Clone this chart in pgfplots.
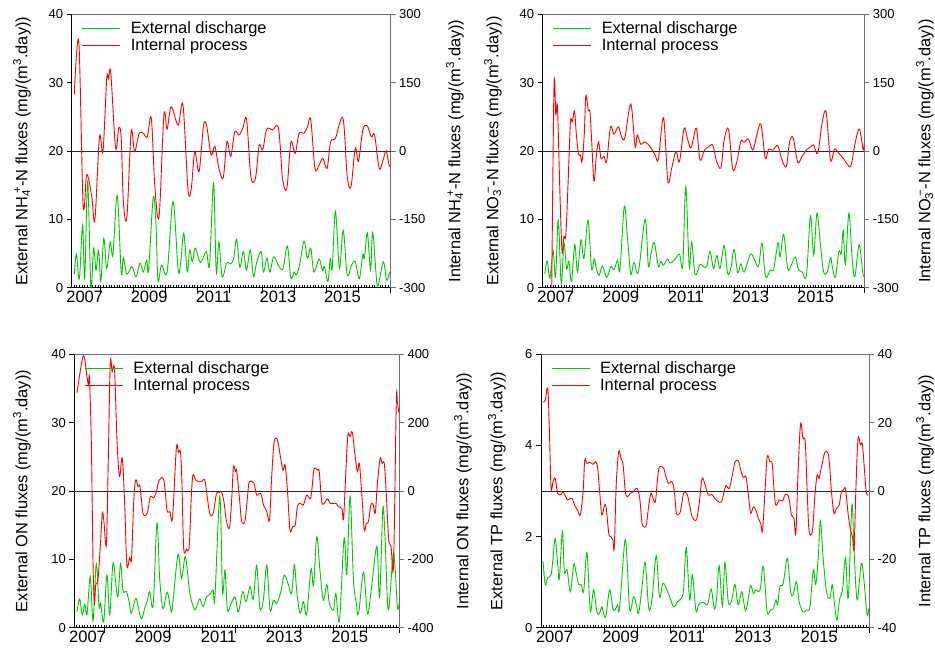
\documentclass[border=0pt]{standalone}
\usepackage{fontspec}
\setmainfont{Liberation Sans}
\usepackage{pgfplots}
\pgfplotsset{compat=1.18}
\definecolor{gline}{RGB}{0,200,0}
\definecolor{rline}{RGB}{255,0,0}
\definecolor{fr}{RGB}{110,110,110}
\newcommand{\tfont}{\fontsize{13}{15}\selectfont}
\newcommand{\xfont}{\fontsize{16.5}{18}\selectfont}
\newcommand{\lfont}{\fontsize{16.4}{19}\selectfont}
\pgfplotsset{
  gax/.style={scale only axis, height=273.4pt, xmin=1.15, xmax=120,
    axis x line*=bottom, axis y line*=left,
    axis line style={-, black, line width=0.8pt},
    tick align=outside, major tick length=5pt, minor tick length=2.5pt,
    tick style={black, line width=0.7pt},
    xtick={12,24,...,120}, xticklabels={},
    minor xtick={2,...,119}, minor x tick style={yshift=2.5pt},
    extra x ticks={6,30,54,78,102},
    extra x tick labels={2007,2009,2011,2013,2015},
    extra x tick style={major tick length=0pt},
    /pgf/number format/assume math mode=true,
    y tick label style={font=\tfont, text=black},
    x tick label style={font=\xfont, text=black}},
  rax/.style={scale only axis, height=273.4pt, xmin=1.15, xmax=120,
    axis x line=none, axis y line*=right,
    axis line style={-, fr, line width=0.8pt},
    tick align=outside, major tick length=5pt,
    tick style={fr, line width=0.7pt},
    /pgf/number format/assume math mode=true,
    tick label style={font=\tfont, text=black},
    extra y ticks={0}, extra y tick labels={},
    extra y tick style={grid=major, major grid style={black!85, line width=0.8pt}},
    legend style={at={(axis description cs:0,1)}, anchor=north west,
      xshift=10pt, yshift=-7.6pt, draw=none, fill=none, inner sep=0pt,
      font=\lfont, row sep=2.8pt, nodes={inner sep=0pt}},
    legend cell align=left,
    legend image code/.code={\draw[##1, line width=0.9pt] (0pt,0pt) -- (38pt,0pt); \path (48pt,-3.4pt) (0pt,0pt);}},
  gl/.style={gline, line width=0.9pt, smooth, tension=0.55},
  rl/.style={rline, line width=0.9pt, smooth, tension=0.55},
}
\begin{document}
\begin{tikzpicture}
\useasboundingbox (0,0) rectangle (935pt,-652pt);
% ---------------- Panel 1 ----------------
\begin{axis}[gax, name=a1, at={(71.7pt,-287.7pt)}, anchor=south west, width=319pt,
  ymin=0, ymax=40, ytick={0,10,20,30,40}]
\addplot[gl] coordinates {(2.1,1.9)(2.9,4.9)(4,1.3)(5.2,9.2)(6,1.4)(7.1,15.5)(8.3,0.1)(9.3,5.8)(10.2,2.6)(11.2,5.5)(12,0.9)(13.1,7.2)(14.2,2.8)(15.5,6.7)(16.5,4.8)(18.1,13.5)(19.6,2.2)(20.4,4.4)(21.7,2.0)(23.6,3.1)(25.1,1.6)(26.6,3.6)(27.8,2.3)(29.1,4.0)(29.8,2.6)(31.5,13.1)(32.5,9.7)(33.3,1.1)(34.6,3.3)(36.7,2.3)(38.9,12.6)(40.8,2.6)(41.8,3.8)(42.9,8.0)(44.2,2.3)(45.1,5.5)(46.1,3.8)(47.2,5.8)(49.1,3.7)(51.3,5.3)(52.5,3.3)(54,15.3)(55,2.3)(56,6.7)(57.2,1.6)(58.9,3.6)(60.4,3.5)(61.5,4.3)(62.6,7.1)(63.8,3.0)(65.1,5.3)(66.3,2.6)(67.7,5.5)(68.9,1.6)(70,3.6)(71.7,5.3)(72.6,2.3)(73.9,4.3)(75,2.3)(76.4,4.5)(78.4,3.1)(79.9,2.8)(81.5,6.1)(82.8,1.4)(84,2.3)(84.9,1.9)(86.2,3.6)(87.7,6.8)(89,4.3)(90.2,5.8)(91.4,2.3)(93.3,4.2)(94.6,2.5)(95.3,3.1)(96.6,0.9)(97.5,4.3)(98.2,2.8)(99.4,11.2)(100.9,2.8)(102.3,8.4)(103.8,1.9)(105.4,3.3)(106.8,3.8)(108.3,1.3)(109.6,4.9)(110.2,4.3)(111.3,8.0)(112.5,2.6)(113.3,8.1)(114.9,0.5)(115.9,1.4)(117.3,3.8)(118.5,1.1)(119.4,2.0)(120,2.5)};
\end{axis}
\begin{axis}[rax, at={(71.7pt,-287.7pt)}, anchor=south west, width=319pt,
  ymin=-300, ymax=300, ytick={-300,-150,0,150,300}]
\addlegendimage{gl}\addlegendentry{External discharge}
\addplot[rl] coordinates {(2.1,124)(3.8,240)(5.4,-118)(6.6,-56)(7.4,-60)(8.7,-104)(9.8,-151)(11.5,31)(12.8,-1)(14.2,159)(14.9,158)(15.7,172)(17.5,7)(18.7,51)(19.6,28)(20.4,-111)(21.7,-146)(23.3,42)(24.6,-1)(26.3,39)(27.8,39)(29.3,31)(30.8,72)(32.1,-75)(33.7,-144)(35.5,79)(36.7,48)(38.2,97)(40.8,57)(42.6,101)(44.5,-86)(45.7,-82)(47,-1)(48.6,-45)(50.3,57)(51.5,53)(53.1,-9)(54.5,10)(56,-38)(57.6,-59)(59,21)(60.4,-12)(61.9,42)(63.5,35)(64.9,50)(66.3,69)(67.9,-56)(69.6,-60)(71,13)(72.3,2)(73.8,48)(76,46)(78.2,50)(79.7,-60)(81.3,-82)(82.8,19)(84.4,-5)(85.9,39)(87.7,39)(89,53)(90.2,69)(91.8,-38)(93.3,-31)(94.7,-16)(96.3,-38)(97.6,20)(99.4,28)(102.2,72)(103.8,-56)(105.2,-78)(106.8,6)(108,-23)(109.6,46)(111.2,56)(112.8,31)(114,35)(115.7,-38)(117,-23)(118.3,0)(119.4,-31)(120,-35)};
\addlegendentry{Internal process}
\end{axis}
\draw[fr, line width=0.8pt] (a1.north west) -- (a1.north east);
% ---------------- Panel 2 ----------------
\begin{axis}[gax, name=a2, at={(542.7pt,-287.7pt)}, anchor=south west, width=321.6pt,
  ymin=0, ymax=40, ytick={0,10,20,30,40}]
\addplot[gl] coordinates {(1.9,2)(2.8,3.9)(3.8,1.4)(5,5.4)(5.9,1.5)(6.9,9.9)(8,0.6)(9,6.5)(10,2.7)(10.8,3.9)(11.8,0.9)(13,6.3)(14,2.3)(15.3,7)(16.4,4.3)(17.9,9.9)(19.2,2.8)(20.2,4.2)(21,2.8)(22,1.8)(23.2,3.2)(24.8,1.5)(26.4,3.1)(27.5,2.6)(28.8,4)(29.7,2.6)(31.3,11.9)(32.5,7.2)(33.7,2)(34.9,3.7)(36.5,2.3)(39,10)(40.2,3.2)(41.2,5)(42.4,6.6)(43.9,3.1)(44.8,3.8)(45.8,3.3)(47.2,4.2)(48.2,3.6)(49.7,4)(51.7,4.9)(52.9,3.2)(54,14.8)(55.3,3.1)(56.2,6.7)(57.5,1.9)(59.3,3.4)(60.7,3)(61.8,3.2)(63,5.3)(64.3,2.8)(65.5,4.7)(66.7,2.8)(68.2,6.2)(69.5,2.1)(70.7,2.9)(71.9,5.6)(73.2,2.2)(74.4,3.5)(75.6,2.3)(77.9,4.9)(79.3,4.2)(80.9,3.1)(82.2,6.5)(83.5,1.6)(85.3,2.6)(86.5,2.7)(88.1,6.6)(88.9,4.5)(90.2,7.8)(91.7,2.8)(92.9,3.2)(94.5,4.5)(95.7,2.6)(96.9,2.4)(98.6,1.8)(100.1,10.5)(101.3,4.8)(102.5,10.9)(103.8,6.2)(105,2.3)(106.3,2.3)(107.5,4.4)(108.1,3.3)(109.3,1.5)(110.6,5.3)(111.5,5)(112.2,8.4)(113,3.4)(114.3,10.9)(115.5,4.3)(116.5,1.6)(118.1,6.3)(119.5,2)(120,1.9)};
\end{axis}
\begin{axis}[rax, at={(542.7pt,-287.7pt)}, anchor=south west, width=321.6pt,
  ymin=-300, ymax=300, ytick={-300,-150,0,150,300}]
\addlegendimage{gl}\addlegendentry{External discharge}
\addplot[rl] coordinates {(4.3,-420)(5.3,136)(6,79)(6.6,97)(7.5,-89)(8.3,-221)(9,-188)(9.7,-184)(10.6,-60)(11.4,64)(12.1,64)(12.9,88)(13.6,35)(14.4,-7)(15.1,-9)(15.7,-23)(16.5,35)(17.1,121)(18,90)(18.6,86)(19.2,28)(20.1,-66)(21,-9)(21.8,20)(22.7,-16)(23.8,-12)(24.8,-23)(26.2,53)(27.5,37)(29.1,53)(30.3,31)(31.5,29)(33.7,103)(35.3,10)(36.1,35)(37.4,15)(38.9,20)(40.8,10)(42.7,-9)(43.9,-18)(45.8,73)(47.4,-66)(48.8,-38)(50.4,-1)(51.7,-23)(53.4,50)(54.6,28)(56,7)(57.9,50)(59.3,-20)(60.9,2)(62.4,9)(64,13)(65.3,-20)(67,-37)(68.2,24)(69.8,48)(71.4,-40)(72.9,-23)(74.4,22)(75.6,19)(77.2,26)(78.8,2)(80.3,35)(81.8,59)(83.4,-16)(84.6,4)(86.2,2)(88,12)(89.6,-20)(91.2,-34)(92.4,20)(93.7,29)(95.4,-25)(97,-12)(98.6,2)(100.3,10)(101.3,13)(102.8,-5)(104.4,61)(105.9,85)(107.5,-20)(109,4)(110.6,-5)(112.2,-16)(113.7,-29)(115.1,-32)(116.7,20)(118.2,48)(119.6,2)(120,20)};
\addlegendentry{Internal process}
\end{axis}
\draw[fr, line width=0.8pt] (a2.north west) -- (a2.north east);
% ---------------- Panel 3 ----------------
\begin{axis}[gax, name=a3, at={(74.3pt,-627.7pt)}, anchor=south west, width=324.7pt,
  ymin=0, ymax=40, ytick={0,10,20,30,40}]
\addplot[gl] coordinates {(2.1,2.3)(3.1,4.2)(4.1,1.9)(5,3.4)(5.8,1.9)(7,7.5)(8,1)(9.2,9.4)(10.2,3.1)(10.8,3.6)(11.9,0.9)(13.1,7.7)(14.1,1.9)(15.3,9.4)(16.3,6.6)(17.1,4.5)(18.1,9.4)(19,5.4)(20.2,5.3)(21.2,3.8)(22,2.1)(23.6,4.3)(24.5,3.1)(25.7,1.3)(26.9,2.8)(27.8,3.8)(28.7,5.3)(30,3.3)(31.4,15.3)(32.4,7.2)(33.6,2.8)(35.1,5.2)(36.3,3.1)(37,2.8)(39.1,10.7)(40.4,7.2)(41.8,10.4)(43.2,5.8)(44,4)(45.3,2.6)(46.1,3.3)(47.1,4.2)(48.3,3.1)(49.5,4.5)(50.8,4.9)(52,5.5)(52.6,4.3)(54.4,19.2)(55.4,5.3)(56.3,8.4)(57.2,2.6)(58.4,3.4)(60,4.5)(61.2,2.3)(62.8,5.3)(64,3.8)(65.5,6)(66.7,4.2)(67.9,9.1)(69.1,2.8)(70.4,4.2)(71.6,9.2)(72.8,2.6)(74,4)(75.3,3.6)(76.7,5.2)(78,7.7)(79.5,6.3)(80.7,5)(81.7,9.2)(82.6,5.2)(83.8,2.1)(85,3.8)(86.2,2)(87.8,8.6)(88.7,6.2)(89.9,13.3)(91.1,8.2)(92.3,4)(93.6,6.3)(94.5,3.6)(96,2.6)(96.9,5)(98.2,1)(99.9,13.1)(100.9,7.8)(102.1,19.2)(103.3,7.2)(104.3,3.8)(105.2,2)(107,8.1)(108.5,2)(110,6.1)(111.9,11.9)(112.9,4.4)(114.1,17.4)(114.9,13.1)(116.1,2.6)(118,10.9)(119.4,3.1)(120,3.5)};
\end{axis}
\begin{axis}[rax, at={(74.3pt,-627.7pt)}, anchor=south west, width=324.7pt,
  ymin=-400, ymax=400, ytick={-400,-200,0,200,400}]
\addlegendimage{gl}\addlegendentry{External discharge}
\addplot[rl] coordinates {(2.1,286)(3.3,349)(4.3,393)(4.9,388)(5.8,335)(6.3,310)(6.7,330)(7.4,135)(8,-207)(8.5,-329)(9,-275)(9.8,-260)(10.7,-158)(11.4,-65)(12,-90)(12.9,-156)(13.6,96)(14.3,374)(15,349)(15.6,367)(16,335)(16.8,144)(17.7,42)(18.7,96)(19.6,-41)(20.4,-217)(21.4,-195)(22.1,-197)(22.9,-31)(23.6,32)(24.5,13)(25.2,13)(26.3,-65)(27.8,-65)(29,-17)(30.2,-20)(31.2,-2)(32.2,32)(33.9,32)(35.1,-56)(36.1,-60)(37.1,-78)(38.5,125)(39.3,113)(40,115)(40.5,37)(41.2,-168)(42.2,-170)(43.2,-163)(44,-12)(44.6,47)(45.6,32)(46.8,27)(47.7,27)(48.9,32)(49.8,-17)(50.8,-68)(52,-65)(53.2,-7)(54.2,-5)(55,-2)(55.9,-31)(56.9,-90)(58,-107)(58.8,-19)(59.4,71)(60.1,57)(60.6,59)(61.6,-21)(62.4,-88)(63.6,-88)(64.5,-21)(65.2,27)(66.9,22)(67.9,-12)(69.4,-7)(70.4,-41)(71.6,-59)(72.6,-85)(73.4,42)(74.3,144)(75.5,149)(76.5,105)(77.5,61)(78.3,76)(79.2,-2)(80.1,-114)(81.1,-104)(82,-100)(82.8,-46)(83.8,-36)(85,-41)(86.2,-12)(87.5,-23)(88.1,3)(88.9,64)(90.1,61)(90.8,57)(91.7,-31)(92.6,-36)(93.8,-23)(94.8,-36)(96,-36)(97,-36)(97.8,-46)(99.1,-51)(99.7,-80)(100.6,66)(101.3,164)(102.1,159)(102.9,172)(103.9,105)(104.8,57)(105.5,81)(106.4,-12)(107.3,-114)(108,-95)(108.8,-90)(109.7,-41)(110.5,-39)(111.3,-65)(112.1,22)(113.1,96)(113.8,81)(114.6,81)(115.3,-2)(116.2,-139)(117.1,-163)(118,-217)(119,257)(119.4,261)(119.9,230)};
\addlegendentry{Internal process}
\end{axis}
\draw[fr, line width=0.8pt] (a3.north west) -- (a3.north east);
% ---------------- Panel 4 ----------------
\begin{axis}[gax, name=a4, at={(541pt,-627.7pt)}, anchor=south west, width=328pt,
  ymin=0, ymax=6, ytick={0,2,4,6}]
\addplot[gl] coordinates {(1.9,1.45)(2.7,0.94)(3.6,1.1)(4.8,1.16)(5.5,1.52)(6.3,1.96)(7.2,1.38)(7.8,1.08)(8.9,2.11)(9.6,1.23)(10.6,1.27)(11.8,0.79)(13,1.39)(13.8,1.23)(14.8,0.95)(15.8,0.94)(16.6,0.79)(17.8,1.65)(19,0.37)(20.2,0.83)(21.4,0.35)(22.3,0.31)(23.2,0.46)(23.9,0.29)(24.7,0.26)(26,0.83)(27.2,0.42)(28,0.39)(28.9,0.5)(29.6,0.42)(31.5,1.89)(32.3,1.52)(33.3,0.39)(34.7,0.68)(35.7,0.5)(36.5,0.31)(37.7,0.86)(38.9,1.43)(40.2,0.42)(41.4,0.64)(42.9,1.58)(44.1,0.68)(45.3,0.97)(46.6,0.86)(48,0.64)(49.2,0.46)(50.7,0.57)(51.9,0.64)(52.8,0.83)(53.8,1.76)(55,0.61)(56,1.16)(57.3,0.37)(58.3,0.51)(60,0.56)(61,0.5)(61.8,0.57)(62.8,0.85)(64,0.41)(64.8,0.66)(65.7,1.36)(66.9,0.48)(67.8,1.43)(69,0.57)(70.2,0.59)(71.4,0.95)(72.6,0.5)(73.9,0.79)(75.1,0.39)(75.9,0.5)(77.1,0.92)(78.1,0.75)(79,0.83)(79.9,0.79)(80.7,0.88)(81.7,1.34)(83.1,0.35)(84.3,0.39)(85.3,0.42)(86.3,0.61)(86.9,0.5)(87.7,0.9)(88.9,0.97)(90.4,1.52)(91.6,0.79)(92.5,0.72)(93.7,1.01)(94.7,0.57)(96.1,0.34)(97.3,0.39)(98.6,0.46)(99.8,1.27)(100.7,0.95)(101.6,1.54)(102.4,2.34)(103.4,1.52)(104.6,0.79)(105.8,0.64)(106.7,0.94)(107.5,0.51)(108.4,0.17)(109.4,0.64)(110.4,0.83)(111.5,1.54)(112.5,0.66)(113.8,2.69)(114.6,1.67)(115.7,0.61)(117.2,1.41)(118.1,1.08)(119.3,0.29)(119.9,0.42)};
\end{axis}
\begin{axis}[rax, at={(541pt,-627.7pt)}, anchor=south west, width=328pt,
  ymin=-40, ymax=40, ytick={-40,-20,0,20,40}]
\addlegendimage{gl}\addlegendentry{External discharge}
\addplot[rl] coordinates {(1.9,26)(2.7,26.6)(3.6,30)(4.2,17.4)(4.8,0.8)(5.5,2.7)(6.3,3.7)(7.2,-0.7)(8.4,-1)(9.1,-0.2)(9.9,-1.4)(10.8,-2.6)(11.8,-2.1)(12.5,-2.3)(13.6,-4.6)(14.4,-5.6)(15.4,-7)(16.4,-0.2)(17,9.1)(17.8,8.1)(19,8.4)(20,7.8)(21,8.6)(21.7,6.6)(22.4,-0.2)(23.2,-7)(24.2,-4.1)(24.8,-5.1)(25.7,-12.4)(26.5,-13.4)(27.2,-14.3)(27.7,-16.6)(28.4,1.8)(29.3,11.5)(30.1,9.6)(30.9,7.6)(31.7,-0.2)(32.5,-1.7)(33.5,-0.7)(34.7,-0.2)(35.9,0.8)(36.9,-2)(37.7,-9)(38.3,-10.4)(39.3,-10)(40.2,-4.1)(41,-0.7)(41.7,-2.1)(42.6,-3.1)(43.4,3.7)(44.1,7.1)(45.6,6.6)(46.4,4.2)(47.4,2.2)(48.6,2.7)(49.5,-0.2)(50.2,-6.5)(51.4,-6.5)(52.2,-3.6)(52.8,-0.7)(54,-0.7)(55,-4.1)(55.9,-7.5)(57.4,-8.5)(58.4,-4.1)(59.5,3.6)(60.6,1.8)(61.8,-1.2)(63,-1)(64.2,-2.3)(65.4,-3.1)(66.6,-3.1)(67.5,-0.2)(68.2,1.6)(69.4,0.8)(70.6,5.2)(71.5,8.6)(72.7,8.8)(73.5,6.1)(74.5,3.9)(75.4,4.2)(76.3,-1.2)(77.1,-6.5)(78.1,-4.6)(79,-5.6)(79.9,-8)(80.8,-9.5)(81.4,-11.7)(82.3,-0.2)(83.1,10)(84.1,8.6)(84.9,8.1)(85.5,1.3)(86.2,-4.1)(87.5,-2.6)(88.7,-2.9)(89.5,-1.2)(90.4,-1)(91.1,-2.6)(91.9,-7)(92.8,-8)(93.5,-12.4)(94.3,5.7)(95.2,19.6)(96.1,15.4)(96.9,14.4)(97.6,-0.2)(98.3,-11.7)(99.5,-11.7)(100.4,-1.2)(101.2,4.7)(101.9,3.7)(102.8,7.1)(104,11.3)(105.2,11)(105.8,6.6)(106.4,-0.2)(107.3,-6.5)(108.2,-5.1)(109.2,-4.1)(110,-0.2)(110.8,0.3)(111.5,0.6)(112.4,-6.5)(113.3,-11.4)(114,-13.4)(114.6,-17)(115.2,-0.7)(116,15.2)(116.9,13.5)(117.6,13.7)(118.4,5.7)(119,-0.2)(119.6,-1.2)};
\addlegendentry{Internal process}
\end{axis}
\draw[fr, line width=0.8pt] (a4.north west) -- (a4.north east);
% ---------------- axis titles ----------------
\node[rotate=90, font=\lfont] at (22pt,-151pt) {External NH\textsubscript{4}\kern-0.25em\textsuperscript{+}-N fluxes (mg/(m\textsuperscript{3}.day))};
\node[rotate=90, font=\lfont] at (455pt,-151pt) {Internal NH\textsubscript{4}\kern-0.25em\textsuperscript{+}-N fluxes (mg/(m\textsuperscript{3}.day))};
\node[rotate=90, font=\lfont] at (493pt,-151pt) {External NO\textsubscript{3}\kern-0.25em\textsuperscript{\char"2212}-N fluxes (mg/(m\textsuperscript{3}.day))};
\node[rotate=90, font=\lfont] at (925pt,-151pt) {Internal NO\textsubscript{3}\kern-0.25em\textsuperscript{\char"2212}-N fluxes (mg/(m\textsuperscript{3}.day))};
\node[rotate=90, font=\lfont] at (22pt,-491pt) {External ON fluxes (mg/(m\textsuperscript{3}.day))};
\node[rotate=90, font=\lfont] at (463pt,-491pt) {Internal ON fluxes (mg/(m\textsuperscript{3}.day))};
\node[rotate=90, font=\lfont] at (497pt,-491pt) {External TP fluxes (mg/(m\textsuperscript{3}.day))};
\node[rotate=90, font=\lfont] at (925pt,-491pt) {Internal TP fluxes (mg/(m\textsuperscript{3}.day))};
\end{tikzpicture}
\end{document}
